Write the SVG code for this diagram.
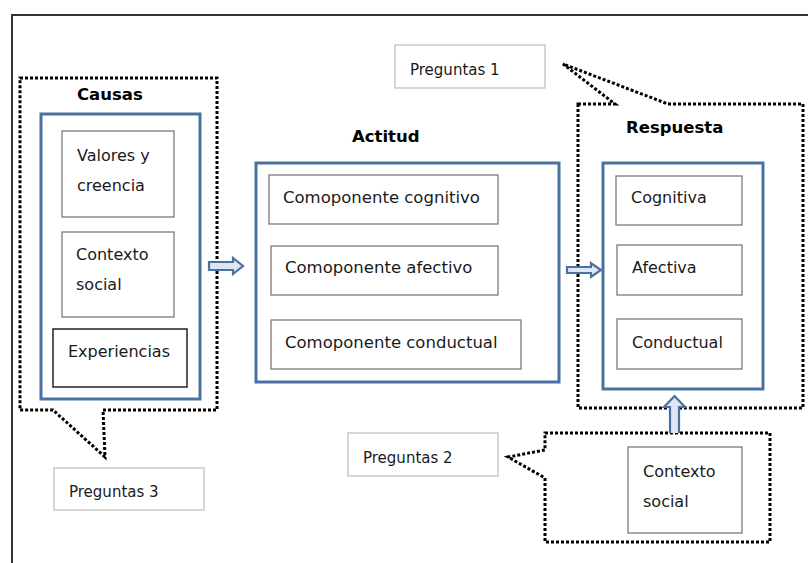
<svg xmlns="http://www.w3.org/2000/svg" width="808" height="563" viewBox="0 0 808 563">
<style>
text{font-family:"DejaVu Sans","Verdana",sans-serif;fill:#1a1a1a}
.t{font-size:16px}
.tc{font-size:16.5px}
.tp{font-size:15px}
.h{font-size:16.5px;font-weight:bold;fill:#000}
.blue{fill:#fff;stroke:#4a72a0;stroke-width:3}
.box{fill:#fff;stroke:#7a7a7a;stroke-width:1.3}
.dark{fill:#fff;stroke:#222;stroke-width:1.5}
.q{fill:#fff;stroke:#bcbcbc;stroke-width:1.2}
.dot{fill:none;stroke:#000;stroke-width:3;stroke-dasharray:3 2}
.arr{fill:#dde6f1;stroke:#4a72a0;stroke-width:2.2;stroke-linejoin:miter}
</style>
<rect width="808" height="563" fill="#fff"/>
<g id="frame" fill="none" stroke="#333" stroke-width="2">
<path d="M12,563 V15 H808"/>
</g>

<g id="causas">
<path class="dot" d="M20,78 H217 V410 H103 L105,457 L53,410 H20 Z"/>
<text class="h" x="77" y="100">Causas</text>
<rect class="blue" x="41" y="114" width="159" height="285"/>
</g>
<g id="valores">
<rect class="box" x="62" y="131" width="112" height="86"/>
<text class="t" x="77" y="161">Valores y</text>
<text class="t" x="77" y="191">creencia</text>
</g>
<g id="contexto1">
<rect class="box" x="62" y="232" width="112" height="85"/>
<text class="t" x="76" y="260">Contexto</text>
<text class="t" x="76" y="290">social</text>
</g>
<g id="experiencias">
<rect class="dark" x="53" y="329" width="134" height="58"/>
<text class="t" x="68" y="357">Experiencias</text>
</g>
<g id="preguntas3">
<rect class="q" x="54" y="468" width="150" height="42"/>
<text class="tp" x="69" y="497">Preguntas 3</text>
</g>

<g id="actitud">
<text class="h" x="352" y="142">Actitud</text>
<rect class="blue" x="256" y="163" width="303" height="219"/>
</g>
<g id="cognitivo">
<rect class="box" x="269" y="175" width="229" height="49"/>
<text class="tc" x="283" y="203">Comoponente cognitivo</text>
</g>
<g id="afectivo">
<rect class="box" x="271" y="246" width="227" height="49"/>
<text class="tc" x="285" y="273">Comoponente afectivo</text>
</g>
<g id="conductual">
<rect class="box" x="271" y="320" width="250" height="49"/>
<text class="tc" x="285" y="348">Comoponente conductual</text>
</g>

<g id="preguntas1">
<rect class="q" x="395" y="45" width="150" height="43"/>
<text class="tp" x="410" y="75">Preguntas 1</text>
</g>

<g id="respuesta">
<path class="dot" d="M578,104 H615 L563,64 L668,104 H803 V408 H578 Z"/>
<text class="h" x="626" y="133">Respuesta</text>
<rect class="blue" x="603" y="163" width="160" height="226"/>
</g>
<g id="r-cognitiva">
<rect class="box" x="616" y="176" width="126" height="49"/>
<text class="t" x="631" y="203">Cognitiva</text>
</g>
<g id="r-afectiva">
<rect class="box" x="617" y="245" width="125" height="50"/>
<text class="t" x="632" y="273">Afectiva</text>
</g>
<g id="r-conductual">
<rect class="box" x="617" y="319" width="125" height="50"/>
<text class="t" x="632" y="348">Conductual</text>
</g>

<g id="preguntas2">
<rect class="q" x="348" y="433" width="150" height="43"/>
<text class="tp" x="363" y="463">Preguntas 2</text>
</g>

<g id="contexto2">
<path class="dot" d="M545,433 H770 V542 H545 V478 L508,457 L545,450 Z"/>
<rect class="box" x="628" y="447" width="114" height="86"/>
<text class="t" x="643" y="477">Contexto</text>
<text class="t" x="643" y="507">social</text>
</g>

<g id="connectors">
<path class="arr" d="M209,262 H233 V258 L243,266 L233,274 V270 H209 Z"/>
<path class="arr" d="M567,267 H591 V263 L601,270 L591,277 V273 H567 Z"/>
<path class="arr" d="M670,433 V407 H664 L674.5,396 L685,407 H679 V433"/>
</g>
</svg>
